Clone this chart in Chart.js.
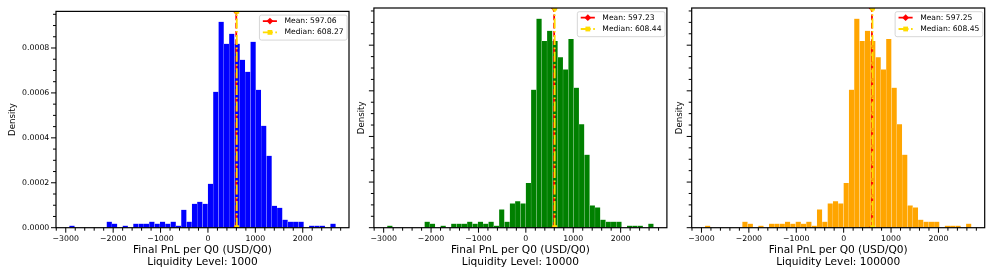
<!DOCTYPE html>
<html>
<head>
<meta charset="utf-8">
<title>Final PnL per Q0 by liquidity level</title>
<script src="https://cdn.jsdelivr.net/npm/chart.js@4.4.1/dist/chart.umd.min.js"></script>
<style>
  html, body { margin: 0; padding: 0; background: #fff; }
  #wrap { position: relative; width: 997px; height: 277px; overflow: hidden; }
  canvas { position: absolute; top: 0; }
</style>
</head>
<body>
<div id="wrap">
  <canvas id="chart1000" width="360" height="277" style="left:0px"></canvas>
  <canvas id="chart10000" width="340" height="277" style="left:340px"></canvas>
  <canvas id="chart100000" width="339" height="277" style="left:658px"></canvas>
</div>
<script>
// histogram bins (50 bins of equal width)
const BIN_START = -2925;
const BIN_WIDTH = 112.4;

// axis ranges / ticks
const X_MIN = -3206;
const X_MAX = 2976;
const Y_MAX = 0.000963;
const X_TICKS = [-3000, -2000, -1000, 0, 1000, 2000];
const Y_TICKS = [0, 0.0002, 0.0004, 0.0006, 0.0008];

const LEVELS = ['1000', '10000', '100000'];
const COLORS = ['#0000ff', '#008000', '#ffa500'];
const MEANS = [597.06, 597.23, 597.25];
const MEDIANS = [608.27, 608.44, 608.45];

// density per bin
const density1000 = [
  0.0000089, 0, 0, 0, 0, 0, 0, 0.0000267, 0.0000178, 0,
  0.0000089, 0, 0.0000178, 0.0000178, 0.0000178, 0.0000267, 0.0000178, 0.0000267, 0.0000178, 0.0000267,
  0.0000089, 0.0000801, 0.0000267, 0.0001068, 0.0001157, 0.0001068, 0.0001958, 0.0006052, 0.0009167, 0.0008188,
  0.0008633, 0.0008188, 0.0007476, 0.0006942, 0.0008277, 0.0006141, 0.0004539, 0.0003204, 0.0000979, 0.0000890,
  0.0000356, 0.0000267, 0.0000267, 0.0000267, 0, 0.0000089, 0.0000089, 0.0000089, 0, 0.0000178
];
const density10000 = [
  0.0000089, 0, 0, 0, 0, 0, 0, 0.0000267, 0.0000178, 0,
  0.0000089, 0, 0.0000178, 0.0000178, 0.0000178, 0.0000267, 0.0000178, 0.0000267, 0.0000178, 0.0000267,
  0.0000089, 0.0000801, 0.0000267, 0.0001068, 0.0001157, 0.0001068, 0.0001958, 0.0006052, 0.0009167, 0.0008188,
  0.0008633, 0.0008188, 0.0007476, 0.0006942, 0.0008277, 0.0006141, 0.0004539, 0.0003204, 0.0000979, 0.0000890,
  0.0000356, 0.0000267, 0.0000267, 0.0000267, 0, 0.0000089, 0.0000089, 0.0000089, 0, 0.0000178
];
const density100000 = [
  0.0000089, 0, 0, 0, 0, 0, 0, 0.0000267, 0.0000178, 0,
  0.0000089, 0, 0.0000178, 0.0000178, 0.0000178, 0.0000267, 0.0000178, 0.0000267, 0.0000178, 0.0000267,
  0.0000089, 0.0000801, 0.0000267, 0.0001068, 0.0001157, 0.0001068, 0.0001958, 0.0006052, 0.0009167, 0.0008188,
  0.0008633, 0.0008188, 0.0007476, 0.0006942, 0.0008277, 0.0006141, 0.0004539, 0.0003204, 0.0000979, 0.0000890,
  0.0000356, 0.0000267, 0.0000267, 0.0000267, 0, 0.0000089, 0.0000089, 0.0000089, 0, 0.0000178
];
const DENSITIES = [density1000, density10000, density100000];

const FONT = 'DejaVu Sans';
const MEAN_COLOR = '#ff0000';
const MEDIAN_COLOR = '#ffdc00';
const MEAN_DASH = [5.8, 2.5];
const MEDIAN_DASH = [10, 2.5, 1.6, 2.5];

// panel geometry (px inside each canvas)
const PANELS = [
  { canvas: 'chart1000',   yWidth: 56,   padRight: 11,   titlePad: 7.5,  showYTicks: true },
  { canvas: 'chart10000',  yWidth: 33.9, padRight: 13.1, titlePad: 16.5, showYTicks: false },
  { canvas: 'chart100000', yWidth: 33.7, padRight: 12.3, titlePad: 16.5, showYTicks: false }
];

function fmtX(v) {
  return v < 0 ? '\u2212' + Math.abs(v) : String(v);
}

// matplotlib-like spines and major/minor tick marks
const frameTicks = {
  id: 'frameTicks',
  afterDraw(chart) {
    const { ctx, chartArea: a, scales: { x, y } } = chart;
    ctx.save();
    ctx.strokeStyle = '#000';
    ctx.lineWidth = 1.2;
    ctx.strokeRect(a.left, a.top, a.right - a.left, a.bottom - a.top);
    ctx.lineWidth = 1;
    ctx.beginPath();
    for (let v = -3200; v <= X_MAX; v += 200) {
      const px = x.getPixelForValue(v);
      const len = v % 1000 === 0 ? 5 : 3;
      ctx.moveTo(px, a.bottom);
      ctx.lineTo(px, a.bottom + len);
    }
    for (let k = 0; k * 0.00005 <= Y_MAX; k++) {
      const py = y.getPixelForValue(k * 0.00005);
      const len = k % 4 === 0 ? 5 : 3;
      ctx.moveTo(a.left, py);
      ctx.lineTo(a.left - len, py);
    }
    ctx.stroke();
    ctx.restore();
  }
};

// legend box in the upper right of the plot area
const statLegend = {
  id: 'statLegend',
  afterDraw(chart, args, opts) {
    const { ctx, chartArea: a } = chart;
    ctx.save();
    ctx.font = '7.6px "' + FONT + '"';
    const textW = Math.max(...opts.items.map(it => ctx.measureText(it.label).width));
    const w = 25 + textW + 3.5, h = 25;
    const left = a.right - 1.9 - w, top = a.top + 3.7, r = 2;

    ctx.beginPath();
    ctx.moveTo(left + r, top);
    ctx.lineTo(left + w - r, top);
    ctx.arcTo(left + w, top, left + w, top + r, r);
    ctx.lineTo(left + w, top + h - r);
    ctx.arcTo(left + w, top + h, left + w - r, top + h, r);
    ctx.lineTo(left + r, top + h);
    ctx.arcTo(left, top + h, left, top + h - r, r);
    ctx.lineTo(left, top + r);
    ctx.arcTo(left, top, left + r, top, r);
    ctx.closePath();
    ctx.fillStyle = 'rgba(255,255,255,0.8)';
    ctx.fill();
    ctx.strokeStyle = '#cccccc';
    ctx.lineWidth = 0.8;
    ctx.stroke();

    opts.items.forEach((it, i) => {
      const cy = top + 6 + i * 11.3;
      const mx = left + 10.5;
      ctx.strokeStyle = it.color;
      ctx.lineWidth = 1.8;
      ctx.setLineDash(it.dash);
      ctx.beginPath();
      ctx.moveTo(left + 3.4, cy);
      ctx.lineTo(left + 17.7, cy);
      ctx.stroke();
      ctx.setLineDash([]);
      ctx.fillStyle = it.color;
      ctx.beginPath();
      if (it.marker === 'diamond') {
        ctx.moveTo(mx - 3.4, cy);
        ctx.lineTo(mx, cy - 3.4);
        ctx.lineTo(mx + 3.4, cy);
        ctx.lineTo(mx, cy + 3.4);
        ctx.closePath();
      } else {
        ctx.rect(mx - 2.4, cy - 2.4, 4.8, 4.8);
      }
      ctx.fill();
      ctx.fillStyle = '#000';
      ctx.textBaseline = 'middle';
      ctx.textAlign = 'left';
      ctx.fillText(it.label, left + 25, cy);
    });
    ctx.restore();
  }
};

function buildChart(idx) {
  const p = PANELS[idx];
  const bars = DENSITIES[idx].map((d, i) => ({ x: BIN_START + (i + 0.5) * BIN_WIDTH, y: d }));

  return new Chart(document.getElementById(p.canvas), {
    type: 'bar',
    data: {
      datasets: [
        {
          type: 'bar',
          data: bars,
          backgroundColor: COLORS[idx],
          borderColor: 'rgba(255,255,255,0.3)',
          borderWidth: 0.4,
          barPercentage: 1,
          categoryPercentage: 1,
          order: 3
        },
        {
          type: 'line',
          data: [{ x: MEANS[idx], y: 0 }, { x: MEANS[idx], y: Y_MAX }],
          borderColor: MEAN_COLOR,
          borderWidth: 1.8,
          borderDash: MEAN_DASH,
          pointStyle: 'rectRot',
          pointRadius: 3.4,
          pointBackgroundColor: MEAN_COLOR,
          pointBorderWidth: 0,
          fill: false,
          order: 2
        },
        {
          type: 'line',
          data: [{ x: MEDIANS[idx], y: 0 }, { x: MEDIANS[idx], y: Y_MAX }],
          borderColor: MEDIAN_COLOR,
          borderWidth: 1.8,
          borderDash: MEDIAN_DASH,
          pointStyle: 'rect',
          pointRadius: 3.4,
          pointBackgroundColor: MEDIAN_COLOR,
          pointBorderWidth: 0,
          fill: false,
          order: 1
        }
      ]
    },
    options: {
      responsive: false,
      animation: false,
      devicePixelRatio: 1,
      layout: { padding: { top: 8, right: p.padRight, left: 0, bottom: 0 } },
      plugins: {
        legend: { display: false },
        tooltip: { enabled: false },
        statLegend: {
          items: [
            { label: 'Mean: ' + MEANS[idx].toFixed(2), color: MEAN_COLOR, dash: MEAN_DASH, marker: 'diamond' },
            { label: 'Median: ' + MEDIANS[idx].toFixed(2), color: MEDIAN_COLOR, dash: MEDIAN_DASH, marker: 'square' }
          ]
        }
      },
      scales: {
        x: {
          type: 'linear',
          offset: false,
          min: X_MIN,
          max: X_MAX,
          grid: { display: false, drawTicks: false },
          border: { display: false },
          afterBuildTicks: s => { s.ticks = X_TICKS.map(v => ({ value: v })); },
          ticks: {
            autoSkip: false,
            maxRotation: 0,
            padding: 6.5,
            color: '#000',
            font: { family: FONT, size: 7.8 },
            callback: v => fmtX(v)
          },
          title: {
            display: true,
            text: ['Final PnL per Q0 (USD/Q0)', 'Liquidity Level: ' + LEVELS[idx]],
            color: '#000',
            font: { family: FONT, size: 10.6, lineHeight: 1.16 },
            padding: { top: 0, bottom: 8.5 }
          },
          afterFit: s => { s.height = 49.3; }
        },
        y: {
          min: 0,
          max: Y_MAX,
          grid: { display: false, drawTicks: false },
          border: { display: false },
          afterBuildTicks: s => { s.ticks = Y_TICKS.map(v => ({ value: v })); },
          ticks: {
            display: p.showYTicks,
            padding: 6.7,
            color: '#000',
            font: { family: FONT, size: 7.8 },
            callback: v => v.toFixed(4)
          },
          title: {
            display: true,
            text: 'Density',
            color: '#000',
            font: { family: FONT, size: 8.6 },
            padding: { top: p.titlePad, bottom: 0 }
          },
          afterFit: s => { s.width = p.yWidth; }
        }
      }
    },
    plugins: [frameTicks, statLegend]
  });
}

LEVELS.forEach((lvl, i) => buildChart(i));
</script>
</body>
</html>
